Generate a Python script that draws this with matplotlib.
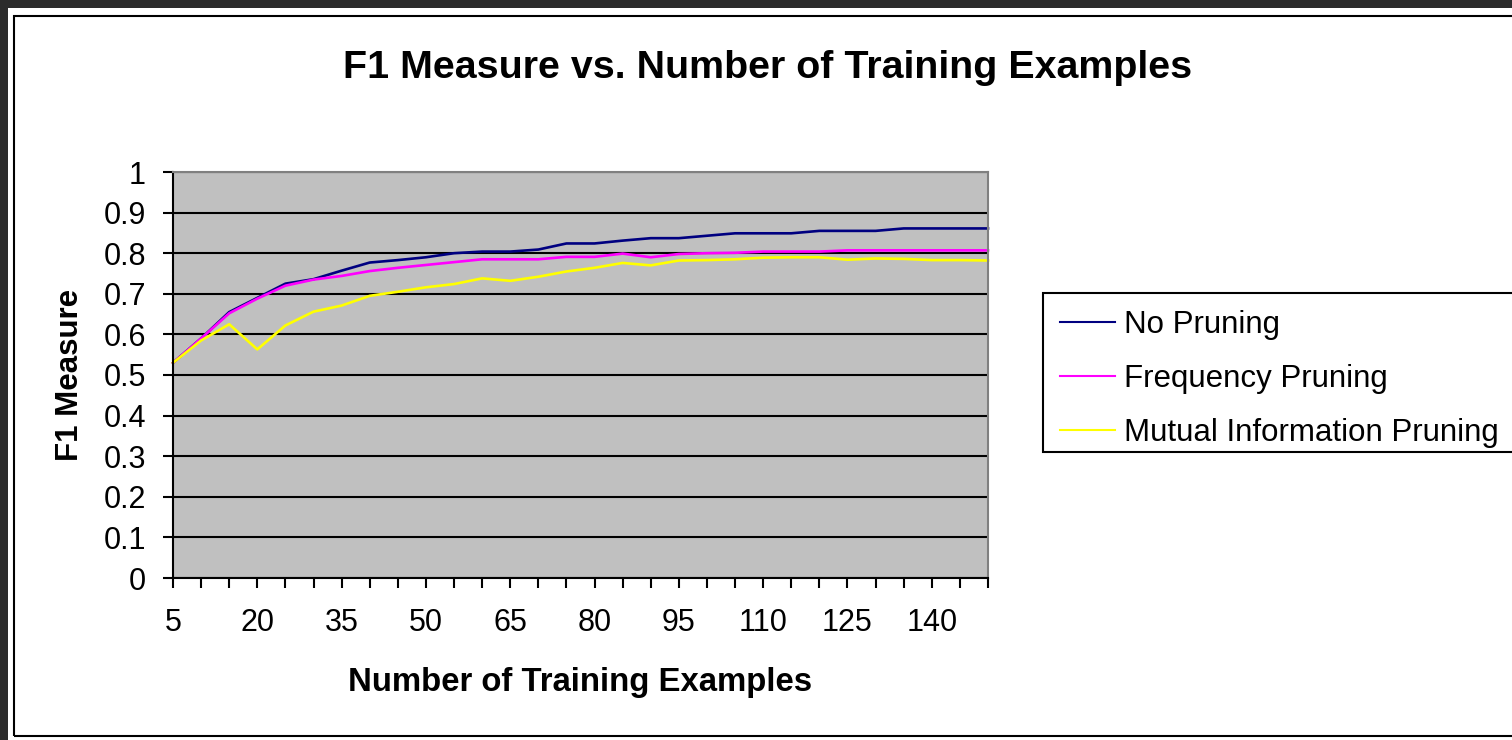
import numpy as np
import matplotlib.pyplot as plt
from matplotlib.patches import Rectangle

plt.rcParams['font.family'] = ['Liberation Sans', 'DejaVu Sans']

# data
examples = list(range(5, 151, 5))
no_pruning = [0.53, 0.59, 0.655, 0.69, 0.725, 0.736, 0.757, 0.777, 0.783, 0.790,
              0.800, 0.804, 0.804, 0.809, 0.824, 0.824, 0.831, 0.837, 0.837, 0.843,
              0.849, 0.849, 0.849, 0.855, 0.855, 0.855, 0.861, 0.861, 0.861, 0.861]
freq_pruning = [0.53, 0.59, 0.652, 0.688, 0.72, 0.735, 0.744, 0.756, 0.764, 0.771,
                0.778, 0.785, 0.785, 0.785, 0.791, 0.791, 0.799, 0.790, 0.798, 0.800,
                0.801, 0.804, 0.804, 0.804, 0.807, 0.807, 0.807, 0.807, 0.807, 0.807]
mi_pruning = [0.53, 0.585, 0.625, 0.563, 0.622, 0.656, 0.671, 0.695, 0.705, 0.716,
              0.724, 0.738, 0.732, 0.742, 0.755, 0.764, 0.776, 0.770, 0.782, 0.783,
              0.785, 0.789, 0.790, 0.790, 0.784, 0.787, 0.786, 0.783, 0.783, 0.782]
series_names = ['No Pruning', 'Frequency Pruning', 'Mutual Information Pruning']
series_colors = ['#000080', '#FF00FF', '#FFFF00']

W, H = 1512, 740
fig = plt.figure(figsize=(W / 100, H / 100), dpi=100, facecolor='#2b2b2b')

# slide-ish frame: white chart area with a thin black border
fig.patches.append(Rectangle((8 / W, 0), 1, 1 - 8 / H, transform=fig.transFigure,
                             facecolor='white', edgecolor='none', zorder=-3))
fig.patches.append(Rectangle((14 / W, 1 - 736 / H), 1.0, (736 - 16) / H,
                             transform=fig.transFigure, facecolor='none',
                             edgecolor='black', linewidth=1.5, zorder=-2))

ax = fig.add_axes([173 / W, 1 - 578 / H, 815 / W, 406 / H])
ax.set_facecolor('#C0C0C0')

x = np.arange(len(examples))
lines = []
for vals, name, col in zip([no_pruning, freq_pruning, mi_pruning], series_names, series_colors):
    ln, = ax.plot(x, vals, color=col, linewidth=1.9, label=name, clip_on=False)
    lines.append(ln)

ax.set_xlim(0, len(examples) - 1)
ax.set_ylim(0, 1)
ax.set_xticks(x)
ax.set_xticklabels([str(v) if i % 3 == 0 else '' for i, v in enumerate(examples)])
ax.set_yticks(np.round(np.arange(0, 1.01, 0.1), 1))
ax.set_yticklabels(['0'] + ['%.1f' % v for v in np.arange(0.1, 0.95, 0.1)] + ['1'])

ax.set_axisbelow(True)
ax.yaxis.grid(True, color='black', linewidth=1.5)
ax.tick_params(axis='both', direction='out', length=7.5, width=1.5, colors='black',
               labelsize=22)
ax.tick_params(axis='y', pad=12)
ax.tick_params(axis='x', pad=14)

for side in ['left', 'bottom']:
    ax.spines[side].set_color('black')
    ax.spines[side].set_linewidth(1.5)
for side in ['top', 'right']:
    ax.spines[side].set_color('#808080')
    ax.spines[side].set_linewidth(1.5)

ax.set_ylabel('F1 Measure', fontsize=22.5, fontweight='bold')
ax.yaxis.set_label_coords(-0.126, 0.5)
ax.set_xlabel('Number of Training Examples', fontsize=23.7, fontweight='bold')
ax.xaxis.set_label_coords(0.5, -0.2586)
ax.xaxis.label.set_va('center')
ax.yaxis.label.set_va('center')

fig.text(768 / W, 1 - 68 / H, 'F1 Measure vs. Number of Training Examples',
         fontsize=28.4, fontweight='bold', ha='center', va='center')

# legend entries without frame, box drawn separately (runs off the right edge)
leg = fig.legend(lines, series_names, loc='upper left',
                 bbox_to_anchor=(1043 / W, 1 - 293 / H), bbox_transform=fig.transFigure,
                 borderaxespad=0, fontsize=22.5, frameon=False,
                 handlelength=1.75, handletextpad=0.3, labelspacing=0.76, borderpad=0.55)
for h in leg.get_lines():
    h.set_linewidth(1.5)
fig.patches.append(Rectangle((1043 / W, 1 - 452 / H), 1.0, (452 - 293) / H,
                             transform=fig.transFigure, facecolor='white',
                             edgecolor='black', linewidth=1.5, zorder=-1))

fig.savefig('out.png', dpi=100, facecolor=fig.get_facecolor())
